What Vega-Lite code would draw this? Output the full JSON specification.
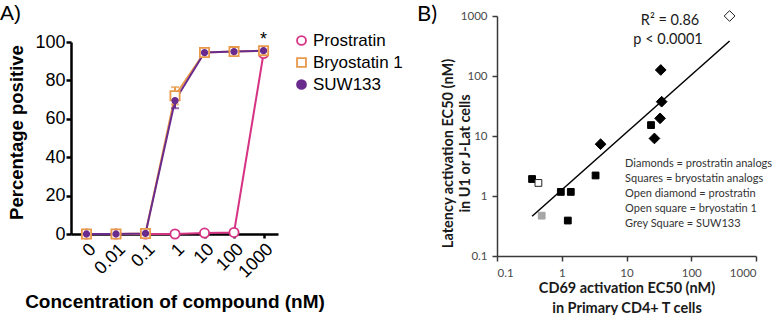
{
  "$schema": "https://vega.github.io/schema/vega-lite/v6.json",
  "background": "white",
  "padding": {"left": 0, "top": 2, "right": 0, "bottom": 0},
  "config": {"view": {"stroke": null}, "axis": {"grid": false}},
  "datasets": {
    "dose": [
      {"series": "Prostratin", "conc": "0", "idx": 0, "pct": 0},
      {"series": "Prostratin", "conc": "0.01", "idx": 1, "pct": 0},
      {"series": "Prostratin", "conc": "0.1", "idx": 2, "pct": 0},
      {"series": "Prostratin", "conc": "1", "idx": 3, "pct": 0},
      {"series": "Prostratin", "conc": "10", "idx": 4, "pct": 0.5},
      {"series": "Prostratin", "conc": "100", "idx": 5, "pct": 0.8},
      {"series": "Prostratin", "conc": "1000", "idx": 6, "pct": 94},
      {"series": "Bryostatin 1", "conc": "0", "idx": 0, "pct": 0},
      {"series": "Bryostatin 1", "conc": "0.01", "idx": 1, "pct": 0},
      {"series": "Bryostatin 1", "conc": "0.1", "idx": 2, "pct": 0.3},
      {"series": "Bryostatin 1", "conc": "1", "idx": 3, "pct": 72, "lo": 67.5, "hi": 76.5},
      {"series": "Bryostatin 1", "conc": "10", "idx": 4, "pct": 94.5},
      {"series": "Bryostatin 1", "conc": "100", "idx": 5, "pct": 95},
      {"series": "Bryostatin 1", "conc": "1000", "idx": 6, "pct": 95.5},
      {"series": "SUW133", "conc": "0", "idx": 0, "pct": 0},
      {"series": "SUW133", "conc": "0.01", "idx": 1, "pct": 0},
      {"series": "SUW133", "conc": "0.1", "idx": 2, "pct": 0.3},
      {"series": "SUW133", "conc": "1", "idx": 3, "pct": 69.5, "lo": 65.5, "hi": 73.5},
      {"series": "SUW133", "conc": "10", "idx": 4, "pct": 94.5},
      {"series": "SUW133", "conc": "100", "idx": 5, "pct": 95},
      {"series": "SUW133", "conc": "1000", "idx": 6, "pct": 95.5}
    ],
    "star": [{"idx": 6, "pct": 101, "text": "*"}],
    "ec50": [
      {"type": "prostratin", "cd69": 391, "latency": 1000},
      {"type": "prostratin analog", "cd69": 33.8, "latency": 126},
      {"type": "prostratin analog", "cd69": 34.9, "latency": 37.3},
      {"type": "prostratin analog", "cd69": 33, "latency": 19.7},
      {"type": "prostratin analog", "cd69": 27, "latency": 9.1},
      {"type": "prostratin analog", "cd69": 3.98, "latency": 7.3},
      {"type": "bryostatin analog", "cd69": 23.9, "latency": 15.2},
      {"type": "bryostatin analog", "cd69": 3.33, "latency": 2.2},
      {"type": "bryostatin analog", "cd69": 0.348, "latency": 1.92},
      {"type": "bryostatin 1", "cd69": 0.436, "latency": 1.65},
      {"type": "bryostatin analog", "cd69": 0.968, "latency": 1.17},
      {"type": "bryostatin analog", "cd69": 1.38, "latency": 1.17},
      {"type": "SUW133", "cd69": 0.49, "latency": 0.47},
      {"type": "bryostatin analog", "cd69": 1.24, "latency": 0.39}
    ],
    "fit": [
      {"cd69": 0.348, "latency": 0.46},
      {"cd69": 391, "latency": 383}
    ],
    "stats": [
      {"cd69": 47, "latency": 826, "text": "R² = 0.86"},
      {"cd69": 43.8, "latency": 398, "text": "p < 0.0001"}
    ],
    "key": [
      {"cd69": 9.5, "latency": 3.41, "text": "Diamonds = prostratin analogs"},
      {"cd69": 9.5, "latency": 1.92, "text": "Squares = bryostatin analogs"},
      {"cd69": 9.5, "latency": 1.08, "text": "Open diamond = prostratin"},
      {"cd69": 9.5, "latency": 0.607, "text": "Open square = bryostatin 1"},
      {"cd69": 9.5, "latency": 0.341, "text": "Grey Square = SUW133"}
    ]
  },
  "bounds": "flush",
  "spacing": 219,
  "resolve": {"scale": {"x": "independent", "y": "independent", "stroke": "independent", "fill": "independent", "shape": "independent", "size": "independent", "color": "independent"}},
  "hconcat": [
    {
      "width": 207,
      "height": 218,
      "title": {"text": "A)", "anchor": "start", "frame": "group", "dx": -71, "offset": -8, "font": "Liberation Sans", "fontSize": 21, "fontWeight": "normal", "color": "black"},
      "data": {"name": "dose"},
      "encoding": {
        "x": {
          "field": "idx", "type": "quantitative",
          "scale": {"domain": [-0.525, 6.49], "nice": false, "zero": false},
          "axis": {
            "values": [0, 1, 2, 3, 4, 5, 6],
            "labelExpr": "['0','0.01','0.1','1','10','100','1000'][datum.value]",
            "labelAngle": -45, "labelOverlap": false,
            "labelFont": "Liberation Sans", "labelFontSize": 18, "labelColor": "black", "labelPadding": 2,
            "domainColor": "black", "domainWidth": 2.5, "tickColor": "black", "tickWidth": 2.5, "tickSize": 4,
            "title": "Concentration of compound (nM)",
            "titleFont": "Liberation Sans", "titleFontSize": 19, "titleFontWeight": "bold", "titleColor": "black", "titlePadding": 11
          }
        },
        "y": {
          "field": "pct", "type": "quantitative",
          "scale": {"domain": [0, 100], "range": [218, 26], "nice": false},
          "axis": {
            "values": [0, 20, 40, 60, 80, 100],
            "labelFont": "Liberation Sans", "labelFontSize": 18, "labelColor": "black", "labelPadding": 1,
            "domainColor": "black", "domainWidth": 2.5, "tickColor": "black", "tickWidth": 2.5, "tickSize": 5,
            "title": "Percentage positive",
            "titleFont": "Liberation Sans", "titleFontSize": 18.5, "titleFontWeight": "bold", "titleColor": "black", "titlePadding": 8, "titleY": 116
          }
        }
      },
      "layer": [
        {
          "transform": [{"filter": "datum.series === 'Prostratin'"}],
          "mark": {"type": "line", "strokeWidth": 2, "color": "#d63384"},
          "encoding": {}
        },
        {
          "transform": [{"filter": "datum.series === 'Bryostatin 1'"}],
          "mark": {"type": "line", "strokeWidth": 2, "color": "#e8994a"},
          "encoding": {}
        },
        {
          "transform": [{"filter": "datum.series === 'SUW133'"}],
          "mark": {"type": "line", "strokeWidth": 2, "color": "#6a2b8e"},
          "encoding": {}
        },
        {
          "transform": [{"filter": "datum.series === 'Bryostatin 1' && isValid(datum.lo)"}],
          "mark": {"type": "errorbar", "color": "#e8994a", "ticks": {"size": 8, "thickness": 2}, "thickness": 2},
          "encoding": {
            "y": {"field": "lo", "type": "quantitative"},
            "y2": {"field": "hi"}
          }
        },
        {
          "transform": [{"filter": "datum.series === 'SUW133' && isValid(datum.lo)"}],
          "mark": {"type": "errorbar", "color": "#6a2b8e", "ticks": {"size": 8, "thickness": 2}, "thickness": 2},
          "encoding": {
            "y": {"field": "lo", "type": "quantitative"},
            "y2": {"field": "hi"}
          }
        },
        {
          "mark": {"type": "point", "filled": true, "opacity": 1, "strokeWidth": 1.8},
          "encoding": {
            "shape": {
              "field": "series", "type": "nominal",
              "scale": {"domain": ["Prostratin", "Bryostatin 1", "SUW133"], "range": ["circle", "square", "circle"]},
              "legend": {"orient": "none", "legendX": 222, "legendY": 16, "title": null, "labelFont": "Liberation Sans", "labelFontSize": 17, "labelColor": "black", "rowPadding": 4, "labelOffset": 3, "padding": 0, "symbolStrokeWidth": 1.8, "symbolSize": 80}
            },
            "fill": {
              "field": "series", "type": "nominal",
              "scale": {"domain": ["Prostratin", "Bryostatin 1", "SUW133"], "range": ["white", "white", "#6a2b8e"]},
              "legend": {"orient": "none", "legendX": 222, "legendY": 16, "title": null, "labelFont": "Liberation Sans", "labelFontSize": 17, "labelColor": "black", "rowPadding": 4, "labelOffset": 3, "padding": 0, "symbolStrokeWidth": 1.8, "symbolSize": 80}
            },
            "stroke": {
              "field": "series", "type": "nominal",
              "scale": {"domain": ["Prostratin", "Bryostatin 1", "SUW133"], "range": ["#d63384", "#e8994a", "#6a2b8e"]},
              "legend": {"orient": "none", "legendX": 222, "legendY": 16, "title": null, "labelFont": "Liberation Sans", "labelFontSize": 17, "labelColor": "black", "rowPadding": 4, "labelOffset": 3, "padding": 0, "symbolStrokeWidth": 1.8, "symbolSize": 80}
            },
            "size": {"condition": {"test": "datum.series === 'SUW133'", "value": 30}, "value": 85}
          }
        },
        {
          "data": {"name": "star"},
          "mark": {"type": "text", "font": "Liberation Sans", "fontSize": 18, "color": "black", "baseline": "middle"},
          "encoding": {"text": {"field": "text"}}
        }
      ]
    },
    {
      "width": 259,
      "height": 240,
      "title": {"text": "B)", "anchor": "start", "frame": "group", "dx": -80, "offset": -17, "font": "Lato", "fontSize": 22, "fontWeight": "normal", "color": "black"},
      "encoding": {
        "x": {
          "field": "cd69", "type": "quantitative",
          "scale": {"type": "log", "domain": [0.1, 1000], "nice": false},
          "axis": {
            "values": [0.1, 1, 10, 100, 1000], "format": "~g",
            "labelFont": "Lato", "labelFontSize": 11.5, "labelColor": "#4a4a4a", "labelPadding": 6,
            "domainColor": "#3a3a3a", "domainWidth": 1.5, "tickColor": "#3a3a3a", "tickWidth": 1.5, "tickSize": 5,
            "title": ["CD69 activation EC50 (nM)", "in Primary CD4+ T cells"],
            "titleFont": "Lato", "titleFontSize": 14.5, "titleFontWeight": "bold", "titleColor": "#1a1a1a", "titleLineHeight": 19.5, "titlePadding": 3
          }
        },
        "y": {
          "field": "latency", "type": "quantitative",
          "scale": {"type": "log", "domain": [0.1, 1000], "nice": false},
          "axis": {
            "values": [0.1, 1, 10, 100, 1000], "format": "~g",
            "labelFont": "Lato", "labelFontSize": 11.5, "labelColor": "#4a4a4a", "labelPadding": 5,
            "domainColor": "#3a3a3a", "domainWidth": 1.5, "tickColor": "#3a3a3a", "tickWidth": 1.5, "tickSize": 5,
            "title": ["Latency activation EC50 (nM)", "in U1 or J-Lat cells"],
            "titleFont": "Lato", "titleFontSize": 14.5, "titleFontWeight": "bold", "titleColor": "#1a1a1a", "titleLineHeight": 17, "titlePadding": -12, "titleY": 137
          }
        }
      },
      "layer": [
        {
          "data": {"name": "fit"},
          "mark": {"type": "line", "color": "black", "strokeWidth": 1.5},
          "encoding": {}
        },
        {
          "data": {"name": "ec50"},
          "mark": {"type": "point", "filled": true, "opacity": 1, "strokeWidth": 1},
          "encoding": {
            "shape": {
              "field": "type", "type": "nominal",
              "scale": {"domain": ["prostratin analog", "bryostatin analog", "prostratin", "bryostatin 1", "SUW133"], "range": ["diamond", "square", "diamond", "square", "square"]},
              "legend": null
            },
            "fill": {
              "field": "type", "type": "nominal",
              "scale": {"domain": ["prostratin analog", "bryostatin analog", "prostratin", "bryostatin 1", "SUW133"], "range": ["black", "black", "white", "white", "#a6a6a6"]},
              "legend": null
            },
            "stroke": {
              "field": "type", "type": "nominal",
              "scale": {"domain": ["prostratin analog", "bryostatin analog", "prostratin", "bryostatin 1", "SUW133"], "range": ["black", "black", "#222222", "#222222", "#a6a6a6"]},
              "legend": null
            },
            "size": {"condition": {"test": "datum.type === 'prostratin analog' || datum.type === 'prostratin'", "value": 115}, "value": 46}
          }
        },
        {
          "data": {"name": "stats"},
          "mark": {"type": "text", "font": "Lato", "fontSize": 14.5, "color": "#1a1a1a", "align": "center", "baseline": "middle"},
          "encoding": {"text": {"field": "text"}}
        },
        {
          "data": {"name": "key"},
          "mark": {"type": "text", "font": "Lato", "fontSize": 11, "color": "#333333", "align": "left", "baseline": "middle"},
          "encoding": {"text": {"field": "text"}}
        }
      ]
    }
  ]
}
